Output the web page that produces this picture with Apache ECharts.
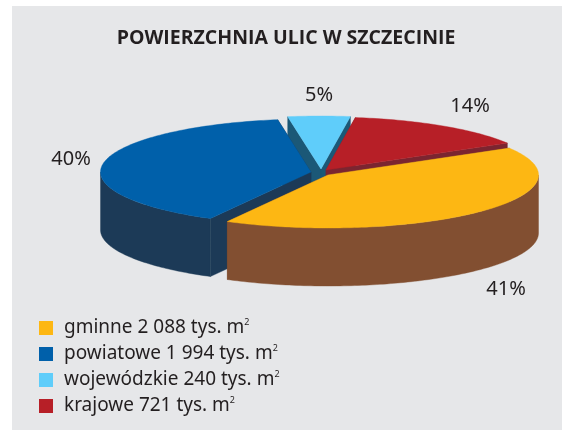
<!DOCTYPE html>
<html>
<head>
    <meta charset="utf-8">
    <style>
        html, body {
            height: 100%;
            margin: 0;
            padding: 0;
            background: #fff;
        }

        .container {
            width: 562px;
            height: 430px;
        }
    </style>
</head>
<body>
<div id="main" class="container"></div>

<script src="https://cdn.jsdelivr.net/npm/echarts@6/dist/echarts.min.js"></script>
<script type="text/javascript">
// data
var titleText = 'POWIERZCHNIA ULIC W SZCZECINIE';
var categories = ['gminne', 'powiatowe', 'wojewódzkie', 'krajowe'];
var values = [2088, 1994, 240, 721];
var valueLabels = ['2 088', '1 994', '240', '721'];
var percentLabels = ['41%', '40%', '5%', '14%'];

// colours per slice: top, outer wall, cut faces
var topColors = ['#fdb713', '#0060aa', '#5fcdfa', '#b71f27'];
var wallColors = ['#824f31', '#1c3a57', '#1b5877', '#7b2530'];
var faceColors = ['#824f31', '#1c3a57', '#1b5877', '#7b2530'];

// pie layout, the picture is a squashed 3d pie
var pieCenter = [320, 172];
var radiusX = 210.5;
var radiusY = 53;
var depth = 58;
var startAngle = 329.5; // clockwise from east
var explodeOffsets = [[8, 3], [-9, 0], [1, -3], [6, -2]];
var percentPositions = [[506, 289], [71, 159], [319, 95], [470, 106]];
var drawOrder = [2, 3, 1, 0]; // back to front

var total = values.reduce(function (a, b) { return a + b; }, 0);

function sliceAngles(index) {
    var from = startAngle;
    for (var i = 0; i < index; i++) {
        from += values[i] / total * 360;
    }
    return [from, from + values[index] / total * 360];
}

function rimPoint(cx, cy, deg, drop) {
    var rad = deg * Math.PI / 180;
    return [cx + radiusX * Math.cos(rad), cy + radiusY * Math.sin(rad) + drop];
}

function arcPoints(cx, cy, from, to, drop) {
    var pts = [];
    var steps = Math.max(2, Math.ceil(Math.abs(to - from)));
    for (var i = 0; i <= steps; i++) {
        pts.push(rimPoint(cx, cy, from + (to - from) * i / steps, drop));
    }
    return pts;
}

function poly(points, color) {
    return {
        type: 'polygon',
        shape: {points: points},
        style: {fill: color, stroke: color, lineWidth: 0.4}
    };
}

function buildSlice(index) {
    var angles = sliceAngles(index);
    var cx = pieCenter[0] + explodeOffsets[index][0];
    var cy = pieCenter[1] + explodeOffsets[index][1];
    var children = [];

    // cut faces
    angles.forEach(function (deg) {
        var rim = rimPoint(cx, cy, deg, 0);
        children.push(poly([rim, [cx, cy], [cx, cy + depth], [rim[0], rim[1] + depth]], faceColors[index]));
    });

    // outer wall, only the front half of the ellipse shows
    [[0, 180], [360, 540]].forEach(function (front) {
        var from = Math.max(angles[0], front[0]);
        var to = Math.min(angles[1], front[1]);
        if (to > from) {
            var upper = arcPoints(cx, cy, from, to, 0);
            var lower = arcPoints(cx, cy, from, to, depth).reverse();
            children.push(poly(upper.concat(lower), wallColors[index]));
        }
    });

    // top
    children.push(poly([[cx, cy]].concat(arcPoints(cx, cy, angles[0], angles[1], 0)), topColors[index]));

    // percent label
    children.push({
        type: 'text',
        x: percentPositions[index][0],
        y: percentPositions[index][1],
        style: {
            text: percentLabels[index],
            fill: '#231f20',
            font: '20px "Noto Sans"',
            textAlign: 'center',
            textVerticalAlign: 'middle'
        }
    });
    return {type: 'group', children: children};
}

function legendName(index) {
    return categories[index] + ' ' + valueLabels[index] + ' tys. m';
}

var myChart = echarts.init(document.getElementById('main'));

var series = drawOrder.map(function (index, order) {
    return {
        name: legendName(index),
        type: 'custom',
        coordinateSystem: 'none',
        silent: true,
        z: 2 + order,
        itemStyle: {color: topColors[index]},
        data: [values[index]],
        renderItem: function () {
            return buildSlice(index);
        }
    };
});

var option = {
    animation: false,
    backgroundColor: '#ffffff',
    graphic: [{
        type: 'rect',
        z: 0,
        shape: {x: 12, y: 6, width: 550, height: 424},
        style: {fill: '#e6e7e9'}
    }],
    title: {
        text: titleText,
        left: 281,
        top: 23,
        textAlign: 'center',
        textStyle: {
            color: '#231f20',
            fontFamily: 'Open Sans',
            fontWeight: 'bold',
            fontSize: 19.5
        }
    },
    legend: {
        orient: 'vertical',
        left: 39,
        top: 318,
        height: 200,
        padding: 0,
        itemWidth: 14,
        itemHeight: 14,
        itemGap: 6,
        icon: 'rect',
        selectedMode: false,
        data: categories.map(function (c, i) { return legendName(i); }),
        formatter: function (name) {
            return name + '{sup|2}';
        },
        textStyle: {
            color: '#231f20',
            fontFamily: 'Noto Sans',
            fontSize: 19,
            lineHeight: 20,
            padding: [0, 0, 0, 6],
            rich: {
                sup: {
                    fontFamily: 'Noto Sans',
                    fontSize: 9,
                    lineHeight: 9,
                    color: '#231f20',
                    verticalAlign: 'top'
                }
            }
        }
    },
    series: series
};

myChart.setOption(option);
</script>
</body>
</html>
